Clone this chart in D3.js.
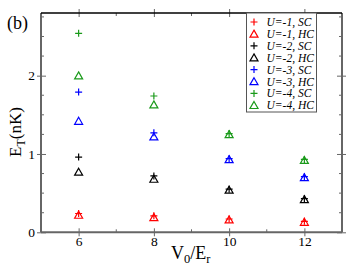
<!DOCTYPE html>
<html>
<head>
<meta charset="utf-8">
<script src="https://cdn.jsdelivr.net/npm/d3@7"></script>
<style>
  html, body { margin: 0; padding: 0; background: #fff; }
  svg { display: block; font-family: "Liberation Serif", "DejaVu Serif", serif; }
</style>
</head>
<body>
<svg id="chart" width="354" height="274"></svg>
<script>
// V0/Er values
const xs = [6, 8, 10, 12];
const xTicks = [6, 8, 10, 12];
const yTicks = [0, 1, 2];

// E_T (nK)
const u1SC = [0.24, 0.21, 0.17, 0.14];
const u1HC = [0.22, 0.19, 0.16, 0.13];
const u2SC = [0.96, 0.72, 0.55, 0.43];
const u2HC = [0.77, 0.68, 0.54, 0.42];
const u3SC = [1.79, 1.27, 0.94, 0.71];
const u3HC = [1.42, 1.22, 0.93, 0.70];
const u4SC = [2.54, 1.74, 1.26, 0.93];
const u4HC = [2.00, 1.63, 1.25, 0.92];

const seriesList = [
  { label: "U=-1, SC", vals: u1SC, color: "#ff0000", shape: "plus" },
  { label: "U=-1, HC", vals: u1HC, color: "#ff0000", shape: "tri" },
  { label: "U=-2, SC", vals: u2SC, color: "#000000", shape: "plus" },
  { label: "U=-2, HC", vals: u2HC, color: "#000000", shape: "tri" },
  { label: "U=-3, SC", vals: u3SC, color: "#0000ff", shape: "plus" },
  { label: "U=-3, HC", vals: u3HC, color: "#0000ff", shape: "tri" },
  { label: "U=-4, SC", vals: u4SC, color: "#1a9a1a", shape: "plus" },
  { label: "U=-4, HC", vals: u4HC, color: "#1a9a1a", shape: "tri" },
];

const svg = d3.select("#chart");
const L = 41, R = 342, T = 13, B = 232.3;

const x = d3.scaleLinear().domain([5, 13]).range([L, R]);
const y = d3.scaleLinear().domain([0, 2.8]).range([B, T]);

const axisCol = "#666";

// minor ticks (inside)
const xMinor = d3.range(5, 13.01, 1).filter(v => xTicks.indexOf(v) < 0);
const yMinor = d3.range(0, 2.8, 0.25).filter(v => yTicks.indexOf(v) < 0);

const g = svg.append("g");

// bottom / top axes
g.append("g").attr("transform", `translate(0,${B})`)
  .call(d3.axisBottom(x).tickValues(xTicks).tickSize(4).tickFormat(d3.format("d")))
  .call(a => a.select(".domain").remove())
  .call(a => a.selectAll("line").attr("y1", -4).attr("stroke", axisCol))
  .call(a => a.selectAll("text").attr("font-size", 13.5).attr("font-family", "Liberation Serif")
    .attr("y", 4).attr("dy", "0.71em").attr("fill", "#000"));
g.append("g").attr("transform", `translate(0,${T})`)
  .call(d3.axisTop(x).tickValues(xTicks).tickSize(4).tickFormat(""))
  .call(a => a.select(".domain").remove())
  .call(a => a.selectAll("line").attr("y1", 4).attr("stroke", axisCol));

// left / right axes
g.append("g").attr("transform", `translate(${L},0)`)
  .call(d3.axisLeft(y).tickValues(yTicks).tickSize(4).tickFormat(d3.format("d")))
  .call(a => a.select(".domain").remove())
  .call(a => a.selectAll("line").attr("x1", 5).attr("stroke", axisCol))
  .call(a => a.selectAll("text").attr("font-size", 13.5).attr("font-family", "Liberation Serif").attr("fill", "#000").attr("x", -6));
g.append("g").attr("transform", `translate(${R},0)`)
  .call(d3.axisRight(y).tickValues(yTicks).tickSize(4).tickFormat(""))
  .call(a => a.select(".domain").remove())
  .call(a => a.selectAll("line").attr("x1", -5).attr("stroke", axisCol));

// minor ticks
g.selectAll(".mxb").data(xMinor).join("line")
  .attr("x1", d => x(d)).attr("x2", d => x(d)).attr("y1", B).attr("y2", B - 3).attr("stroke", axisCol);
g.selectAll(".mxt").data(xMinor).join("line")
  .attr("x1", d => x(d)).attr("x2", d => x(d)).attr("y1", T).attr("y2", T + 3).attr("stroke", axisCol);
g.selectAll(".myl").data(yMinor).join("line")
  .attr("x1", L).attr("x2", L + 3).attr("y1", d => y(d)).attr("y2", d => y(d)).attr("stroke", axisCol);
g.selectAll(".myr").data(yMinor).join("line")
  .attr("x1", R).attr("x2", R - 3).attr("y1", d => y(d)).attr("y2", d => y(d)).attr("stroke", axisCol);

// frame
g.append("line").attr("x1", L).attr("x2", R).attr("y1", B).attr("y2", B).attr("stroke", axisCol).attr("stroke-width", 2);
g.append("line").attr("x1", L).attr("x2", L).attr("y1", T).attr("y2", B).attr("stroke", axisCol).attr("stroke-width", 2);
g.append("line").attr("x1", R).attr("x2", R).attr("y1", T).attr("y2", B).attr("stroke", axisCol).attr("stroke-width", 2);
g.append("line").attr("x1", L).attr("x2", R).attr("y1", T).attr("y2", T).attr("stroke", "#000").attr("stroke-width", 1.5);

function drawMarker(sel, shape, color) {
  if (shape === "plus") {
    sel.append("path").attr("d", "M-3.5,0H3.5M0,-3.5V3.5")
      .attr("stroke", color).attr("stroke-width", 1.2).attr("fill", "none");
  } else {
    sel.append("path").attr("d", "M0,-3.8L4,3.2L-4,3.2Z")
      .attr("stroke", color).attr("stroke-width", 1.2).attr("fill", "none");
  }
}

// points
seriesList.forEach(s => {
  const pts = g.append("g");
  xs.forEach((xv, i) => {
    const m = pts.append("g").attr("transform", `translate(${x(xv)},${y(s.vals[i])})`);
    drawMarker(m, s.shape, s.color);
  });
});

// legend
const lg = svg.append("g").attr("transform", "translate(246.5,13)");
lg.append("rect").attr("width", 70).attr("height", 99)
  .attr("fill", "#fff").attr("stroke", "#555").attr("stroke-width", 1);
seriesList.forEach((s, i) => {
  const row = lg.append("g").attr("transform", `translate(0,${9 + i * 11.9})`);
  drawMarker(row.append("g").attr("transform", "translate(7.5,0)"), s.shape, s.color);
  row.append("text").attr("x", 20).attr("y", 4).attr("font-size", 11.5)
    .attr("font-style", "italic").attr("font-family", "Liberation Serif").text(s.label);
});

// panel label
svg.append("text").attr("x", 7).attr("y", 28.5).attr("font-size", 18).text("(b)");

// axis titles
const yl = svg.append("text").attr("transform", "translate(21,157) rotate(-90)")
  .attr("font-size", 17);
yl.append("tspan").text("E");
yl.append("tspan").attr("font-size", 12).attr("dy", 4).text("T");
yl.append("tspan").attr("dy", -4).text("(nK)");

const xl = svg.append("text").attr("x", 171).attr("y", 258.5).attr("font-size", 18);
xl.append("tspan").text("V");
xl.append("tspan").attr("font-size", 12.5).attr("dy", 4.5).text("0");
xl.append("tspan").attr("dy", -4.5).text("/E");
xl.append("tspan").attr("font-size", 12.5).attr("dy", 4.5).text("r");
</script>
</body>
</html>
